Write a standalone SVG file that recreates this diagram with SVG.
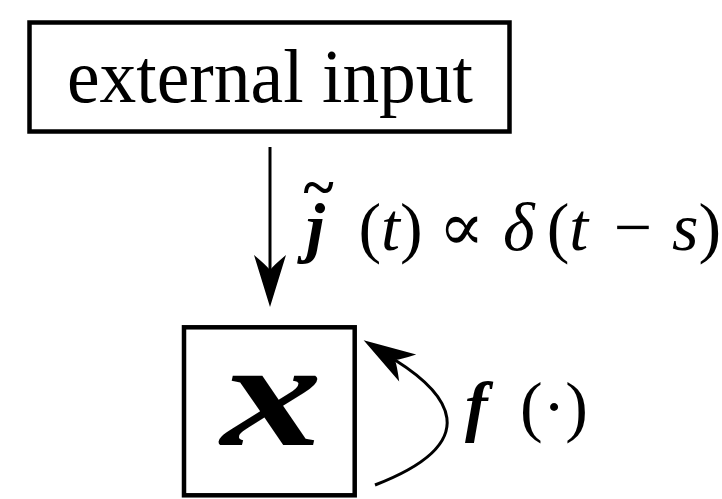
<svg xmlns="http://www.w3.org/2000/svg" width="722" height="499" viewBox="0 0 722 499">
  <style>
    .box { fill: #ffffff; stroke: #000000; stroke-width: 4.5; }
    .conn { fill: none; stroke: #000000; stroke-width: 3; }
    .math { font-family: "Liberation Serif", "DejaVu Serif", serif; font-size: 68px; fill: #000000; font-style: normal; font-weight: normal; }
    .it { font-style: italic; }
    .bi { font-style: italic; font-weight: bold; }
  </style>
  <defs>
    <marker id="head" markerUnits="userSpaceOnUse" markerWidth="60" markerHeight="40" viewBox="-20 -20 60 40" refX="0" refY="0" orient="auto" overflow="visible">
      <path d="M37,0 L-15,-16 Q-5,-4 0,0 Q-5,4 -15,16 Z" fill="#000000"/>
    </marker>
  </defs>
  <g id="external-input">
    <rect class="box" x="29.5" y="22.5" width="480" height="109"/>
    <text class="math" x="270" y="101.5" style="font-size:76px" text-anchor="middle" textLength="406" lengthAdjust="spacingAndGlyphs">external input</text>
  </g>
  <g id="state-x">
    <rect class="box" x="184" y="327.3" width="170.7" height="168"/>
    <text class="math bi" x="271" y="445" style="font-size:150px" text-anchor="middle" transform="translate(269,0) scale(1.35,1) translate(-269,0)">x</text>
  </g>
  <g id="connectors">
    <path class="conn" d="M270,147 L270,270" marker-end="url(#head)"/>
    <path class="conn" d="M375,485 C489,441 446,392 395,360" marker-end="url(#head)"/>
  </g>
  <g id="input-label">
    <text class="math bi" x="318" y="206" style="font-size:58px" text-anchor="middle">~</text>
    <text class="math" y="249.5"><tspan class="bi" x="306">j</tspan><tspan x="358.4">(</tspan><tspan class="it" x="381">t</tspan><tspan x="400">)</tspan></text>
    <text class="math" x="461.5" y="249.5" text-anchor="middle">∝</text>
    <text class="math" y="249.5"><tspan class="it" x="503">δ</tspan><tspan x="546.7">(</tspan><tspan class="it" x="569.3">t</tspan><tspan x="613.8">−</tspan><tspan class="it" x="672">s</tspan><tspan x="698.5">)</tspan></text>
  </g>
  <g id="feedback-label">
    <text class="math" y="428.7"><tspan class="bi" x="465">f</tspan><tspan x="520">(·)</tspan></text>
  </g>
</svg>
